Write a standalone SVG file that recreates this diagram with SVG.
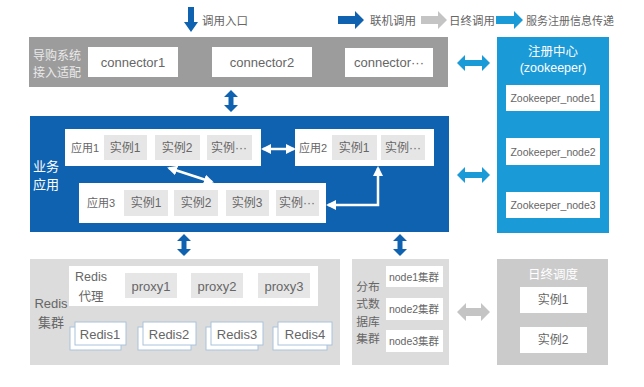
<svg xmlns="http://www.w3.org/2000/svg" width="644" height="387" viewBox="0 0 644 387">
<style>
text{font-family:"Liberation Sans","Noto Sans CJK SC",sans-serif;fill:#666;dominant-baseline:central;text-anchor:middle}
.cjk{font-family:"Noto Sans CJK SC",sans-serif}
.wb{fill:#fff}
.inst{fill:#e6e6e6}
.lbl{font-size:12px}
.sm{font-size:10.5px}
.wt{fill:#fff}
.lg{fill:#eaeaea}
.dk{fill:#0e62b0}
.lb{fill:#1b9ad8}
.gr{fill:#c4c4c4}
.warr{stroke:#fff;stroke-width:2.5;fill:none}
.rb{fill:#fff;stroke:#a9c3dc;stroke-width:1}
</style>
<defs>
<marker id="wh" viewBox="0 0 10 10" refX="8" refY="5" markerWidth="4" markerHeight="4.4" orient="auto-start-reverse" markerUnits="strokeWidth">
<path d="M0,0 L10,5 L0,10 Z" fill="#fff"/>
</marker>
</defs>
<rect width="644" height="387" fill="#fff"/>

<g id="legend">
<path class="dk" d="M188,7 H194 V22 H198 L191,32 L184,22 H188 Z"/>
<text x="225" y="20" class="cjk" style="font-size:11.5px">调用入口</text>
<path class="dk" d="M338,16 H355 V11 L364,20 L355,29 V24 H338 Z"/>
<text x="393" y="20" class="cjk" style="font-size:11.5px">联机调用</text>
<path class="gr" d="M421,16 H438 V11 L447,20 L438,29 V24 H421 Z"/>
<text x="472" y="20" class="cjk" style="font-size:11.5px">日终调用</text>
<path class="lb" d="M496,16 H514 V11 L523,20 L514,29 V24 H496 Z"/>
<text x="570" y="20" class="cjk" style="font-size:11px">服务注册信息传递</text>
</g>

<g id="gateway">
<rect x="29" y="37" width="419" height="50" fill="#9c9c9c"/>
<text x="57" y="54" class="cjk lg" style="font-size:12px">导购系统</text>
<text x="57" y="71" class="cjk lg" style="font-size:12px">接入适配</text>
<rect x="88" y="47" width="90" height="30" class="wb"/>
<text x="133" y="62" style="font-size:13px">connector1</text>
<rect x="212" y="47" width="100" height="30" class="wb"/>
<text x="262" y="62" style="font-size:13px">connector2</text>
<rect x="345" y="48" width="88" height="29" class="wb"/>
<text x="389" y="62" style="font-size:13px">connector···</text>
</g>

<g id="business">
<rect x="30" y="116" width="419" height="116" fill="#0e62b0"/>
<text x="46" y="165" class="cjk wt" style="font-size:13px">业务</text>
<text x="46" y="183" class="cjk wt" style="font-size:13px">应用</text>
</g>

<g id="app1">
<rect x="65" y="129" width="196" height="37" class="wb"/>
<text x="85" y="148" style="font-size:11px">应用1</text>
<rect x="104" y="135" width="43" height="25" class="inst"/>
<text x="125" y="148" class="lbl">实例1</text>
<rect x="155" y="135" width="45" height="25" class="inst"/>
<text x="177" y="148" class="lbl">实例2</text>
<rect x="207" y="135" width="45" height="25" class="inst"/>
<text x="229" y="148" class="lbl">实例···</text>
</g>

<g id="app2">
<rect x="295" y="129" width="139" height="37" class="wb"/>
<text x="313" y="148" style="font-size:11px">应用2</text>
<rect x="332" y="135" width="45" height="25" class="inst"/>
<text x="354" y="148" class="lbl">实例1</text>
<rect x="381" y="135" width="44" height="25" class="inst"/>
<text x="403" y="148" class="lbl">实例···</text>
</g>

<g id="app3">
<rect x="79" y="183" width="247" height="40" class="wb"/>
<text x="101" y="203" style="font-size:11px">应用3</text>
<rect x="124" y="190" width="44" height="26" class="inst"/>
<text x="146" y="203" class="lbl">实例1</text>
<rect x="174" y="190" width="44" height="26" class="inst"/>
<text x="196" y="203" class="lbl">实例2</text>
<rect x="226" y="190" width="43" height="26" class="inst"/>
<text x="247" y="203" class="lbl">实例3</text>
<rect x="276" y="190" width="43" height="26" class="inst"/>
<text x="297" y="203" class="lbl">实例···</text>
</g>

<g id="registry">
<rect x="497" y="37" width="112" height="196" fill="#1b9ad8"/>
<text x="553" y="50" class="cjk wt" style="font-size:12.5px">注册中心</text>
<text x="553" y="68" class="wt" style="font-size:12.5px">(zookeeper)</text>
<rect x="506" y="85" width="94" height="26" class="wb"/>
<text x="553" y="98" class="sm">Zookeeper_node1</text>
<rect x="506" y="138" width="94" height="27" class="wb"/>
<text x="553" y="152" class="sm">Zookeeper_node2</text>
<rect x="506" y="192" width="94" height="26" class="wb"/>
<text x="553" y="205" class="sm">Zookeeper_node3</text>
</g>

<g id="redis">
<rect x="30" y="259" width="310" height="106" fill="#dcdcdc"/>
<text x="51" y="303" style="font-size:13px">Redis</text>
<text x="51" y="321" class="cjk" style="font-size:13px">集群</text>
<rect x="69" y="266" width="249" height="40" class="wb"/>
<text x="91" y="277" style="font-size:12.5px">Redis</text>
<text x="91" y="295" class="cjk" style="font-size:12.5px">代理</text>
<rect x="125" y="273" width="52" height="25" class="inst"/>
<text x="151" y="286" style="font-size:13px">proxy1</text>
<rect x="191" y="273" width="52" height="25" class="inst"/>
<text x="217" y="286" style="font-size:13px">proxy2</text>
<rect x="258" y="273" width="52" height="25" class="inst"/>
<text x="284" y="286" style="font-size:13px">proxy3</text>
<rect x="70" y="327" width="51" height="23" class="rb"/>
<rect x="75" y="322" width="51" height="23" class="rb"/>
<text x="100" y="334" style="font-size:13px">Redis1</text>
<rect x="138" y="327" width="53" height="23" class="rb"/>
<rect x="143" y="322" width="53" height="23" class="rb"/>
<text x="169" y="334" style="font-size:13px">Redis2</text>
<rect x="206" y="327" width="52" height="23" class="rb"/>
<rect x="211" y="322" width="52" height="23" class="rb"/>
<text x="237" y="334" style="font-size:13px">Redis3</text>
<rect x="273" y="327" width="54" height="23" class="rb"/>
<rect x="278" y="322" width="54" height="23" class="rb"/>
<text x="305" y="334" style="font-size:13px">Redis4</text>
</g>

<g id="database">
<rect x="352" y="259" width="97" height="106" fill="#dcdcdc"/>
<text x="368" y="285" class="cjk" style="font-size:11.8px">分布</text>
<text x="368" y="302.5" class="cjk" style="font-size:11.8px">式数</text>
<text x="368" y="320" class="cjk" style="font-size:11.8px">据库</text>
<text x="368" y="337.5" class="cjk" style="font-size:11.8px">集群</text>
<rect x="386" y="266" width="57" height="21" class="wb"/>
<text x="414" y="277" style="font-size:10.5px">node1集群</text>
<rect x="386" y="298" width="57" height="22" class="wb"/>
<text x="414" y="309" style="font-size:10.5px">node2集群</text>
<rect x="386" y="330" width="57" height="22" class="wb"/>
<text x="414" y="341" style="font-size:10.5px">node3集群</text>
</g>

<g id="batch">
<rect x="497" y="259" width="111" height="106" fill="#cbcbcb"/>
<text x="553" y="273" class="cjk wt" style="font-size:12.5px">日终调度</text>
<rect x="520" y="287" width="67" height="26" class="wb"/>
<text x="553" y="300" class="lbl">实例1</text>
<rect x="520" y="327" width="67" height="26" class="wb"/>
<text x="553" y="340" class="lbl">实例2</text>
</g>

<g id="connectors">
<path class="dk" d="M231,90 L238,97 H233.5 V105 H238 L231,112 L224,105 H228.5 V97 H224 Z"/>
<path class="dk" d="M184,234 L191,241 H186.5 V249 H191 L184,256 L177,249 H181.5 V241 H177 Z"/>
<path class="dk" d="M400,234 L407,241 H402.5 V249 H407 L400,256 L393,249 H397.5 V241 H393 Z"/>
<path class="lb" d="M457,63 L465,55 V60 H482 V55 L490,63 L482,71 V66 H465 V71 Z"/>
<path class="lb" d="M457,175 L465,167 V172 H482 V167 L490,175 L482,183 V178 H465 V183 Z"/>
<path class="gr" d="M457,312 L466,303 V308 H481 V303 L490,312 L481,321 V316 H466 V321 Z"/>
<line x1="263" y1="149" x2="294" y2="149" class="warr" marker-start="url(#wh)" marker-end="url(#wh)"/>
<line x1="169" y1="168" x2="212" y2="182" class="warr" marker-start="url(#wh)" marker-end="url(#wh)"/>
<polyline points="328,205 378,205 378,168" class="warr" marker-start="url(#wh)" marker-end="url(#wh)"/>
</g>
</svg>
